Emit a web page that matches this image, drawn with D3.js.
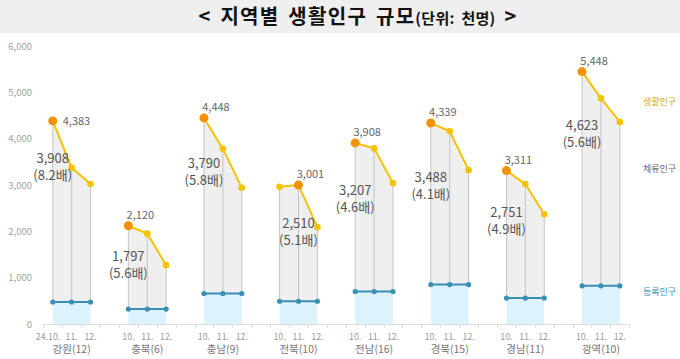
<!DOCTYPE html>
<html><head><meta charset="utf-8">
<script src="https://cdn.jsdelivr.net/npm/d3@7"></script>
<style>
body{margin:0;background:#fff;}
svg{display:block;font-family:"Noto Sans CJK KR","Noto Sans",sans-serif;}
</style></head>
<body>
<svg id="c" width="680" height="359"></svg>
<script>
// ---- data ----
const regions = ["강원(12)","충북(6)","충남(9)","전북(10)","전남(16)","경북(15)","경남(11)","광역(10)"];
const months = ["10.","11.","12."];
const firstMonthLabel = "24.10.";
// 생활인구 (thousand persons), months 10, 11, 12
const living = [
  [4383,3370,3020],
  [2120,1950,1270],
  [4448,3780,2940],
  [2960,3001,2090],
  [3908,3790,3040],
  [4339,4160,3320],
  [3311,3020,2370],
  [5448,4870,4360]
];
// 등록인구 (thousand persons)
const registered = [
  [475,475,475],
  [323,323,323],
  [658,658,658],
  [491,491,491],
  [701,701,701],
  [851,851,851],
  [560,560,560],
  [825,825,825]
];
// 체류인구 at the peak month, and multiple
const stayValues = [3908,1797,3790,2510,3207,3488,2751,4623];
const stayRatios = ["8.2배","5.6배","5.8배","5.1배","4.6배","4.1배","4.9배","5.6배"];
const yTicks = [0,1000,2000,3000,4000,5000,6000];
const legendNames = ["생활인구","체류인구","등록인구"];

// ---- layout ----
const svg = d3.select("#c");
const W = 680, H = 359;
svg.append("rect").attr("x",0).attr("y",0).attr("width",W).attr("height",33).attr("fill","#efefef");
const title = svg.append("text").attr("x",358).attr("y",24).attr("text-anchor","middle")
  .attr("fill","#111").attr("font-weight","bold").attr("letter-spacing",1.3).attr("word-spacing",3);
title.append("tspan").attr("font-size",20).text("< 지역별 생활인구 규모");
title.append("tspan").attr("font-size",15).attr("letter-spacing",0.3).text("(단위: 천명)");
title.append("tspan").attr("font-size",20).text(" >");

const y = d3.scaleLinear().domain([0,6000]).range([324,46]);
const slots = [];
regions.forEach((r,gi)=>{
  months.forEach((m,mi)=>slots.push(gi+"|"+mi));
  if (gi < regions.length-1) slots.push(gi+"|gap");
});
const x = d3.scaleBand().domain(slots).range([43.3,629.3]).padding(0);
const cx = (gi,mi)=> x(gi+"|"+mi) + x.bandwidth()/2;

// y tick labels
svg.append("g").selectAll("text").data(yTicks).join("text")
  .attr("x",32).attr("y",d=>y(d)+3.5).attr("text-anchor","end")
  .attr("font-size",9.5).attr("fill","#a0a0a0")
  .text(d=>d3.format(",")(d));

// x axis
const axisG = svg.append("g");
axisG.append("line").attr("x1",43.3).attr("x2",629.3).attr("y1",324.5).attr("y2",324.5)
  .attr("stroke","#dcdcdc").attr("stroke-width",1);
const tickXs = slots.map(s=>x(s)).concat([629.3]);
axisG.selectAll("line.t").data(tickXs).join("line").attr("class","t")
  .attr("x1",d=>Math.round(d)+0.5).attr("x2",d=>Math.round(d)+0.5)
  .attr("y1",324.5).attr("y2",328).attr("stroke","#dcdcdc");

regions.forEach((r,gi)=>{
  const pts = months.map((m,mi)=>({x:cx(gi,mi), top:y(living[gi][mi]), bot:y(registered[gi][mi]), v:living[gi][mi]}));
  const g = svg.append("g");
  const area = d3.area().x(d=>d.x).y0(d=>d.bot).y1(d=>d.top);
  g.append("path").datum(pts).attr("d",area).attr("fill","#efefef");
  const areaB = d3.area().x(d=>d.x).y0(y(0)).y1(d=>d.bot);
  g.append("path").datum(pts).attr("d",areaB).attr("fill","#dcf2fc");
  g.selectAll("line.v").data(pts).join("line").attr("class","v")
    .attr("x1",d=>d.x).attr("x2",d=>d.x).attr("y1",d=>d.top).attr("y2",d=>d.bot)
    .attr("stroke","#c4c4c4").attr("stroke-width",1);
  g.append("path").datum(pts).attr("d",d3.line().x(d=>d.x).y(d=>d.bot))
    .attr("fill","none").attr("stroke","#3b8fb5").attr("stroke-width",2);
  g.selectAll("circle.b").data(pts).join("circle").attr("class","b")
    .attr("cx",d=>d.x).attr("cy",d=>d.bot).attr("r",2.6).attr("fill","#3b8fb5");
  g.append("path").datum(pts).attr("d",d3.line().x(d=>d.x).y(d=>d.top))
    .attr("fill","none").attr("stroke","#f5c200").attr("stroke-width",2);
  const maxI = d3.maxIndex(pts,d=>d.v);
  g.selectAll("circle.y").data(pts).join("circle").attr("class","y")
    .attr("cx",d=>d.x).attr("cy",d=>d.top)
    .attr("r",(d,i)=>i===maxI?4.5:3.3)
    .attr("fill",(d,i)=>i===maxI?"#f39200":"#f5c400");
  const pk = pts[maxI];
  if (gi===0) {
    g.append("text").attr("x",pk.x+10).attr("y",pk.top+4.5).attr("font-size",11)
      .attr("fill","#666").text(d3.format(",")(pk.v));
  } else {
    g.append("text").attr("x",pk.x+12).attr("y",pk.top-7).attr("text-anchor","middle")
      .attr("font-size",11).attr("fill","#666").text(d3.format(",")(pk.v));
  }
  const sy = y(stayValues[gi]);
  g.append("text").attr("x",pk.x).attr("y",sy+20).attr("text-anchor","middle")
    .attr("font-size",13).attr("fill","#555").text(d3.format(",")(stayValues[gi]));
  g.append("text").attr("x",pk.x).attr("y",sy+37).attr("text-anchor","middle")
    .attr("font-size",13).attr("fill","#555").text("("+stayRatios[gi]+")");
  months.forEach((m,mi)=>{
    const first = gi===0&&mi===0;
    svg.append("text").attr("x",first?cx(gi,mi)+7.5:cx(gi,mi)).attr("y",339.8)
      .attr("text-anchor",first?"end":"middle")
      .attr("font-size",8.8).attr("fill","#9a9a9a")
      .text(first?firstMonthLabel:m);
  });
  svg.append("text").attr("x",cx(gi,1)).attr("y",352.5).attr("text-anchor","middle")
    .attr("font-size",10.5).attr("fill","#777").text(r);
});

// legend
const legColors = ["#d8aa00","#666","#3b8fb5"];
const legY = [101,168,291.5];
legendNames.forEach((n,i)=>{
  svg.append("text").attr("x",643).attr("y",legY[i]+3.5).attr("font-size",9)
    .attr("fill",legColors[i]).text(n);
});
</script>
</body></html>
